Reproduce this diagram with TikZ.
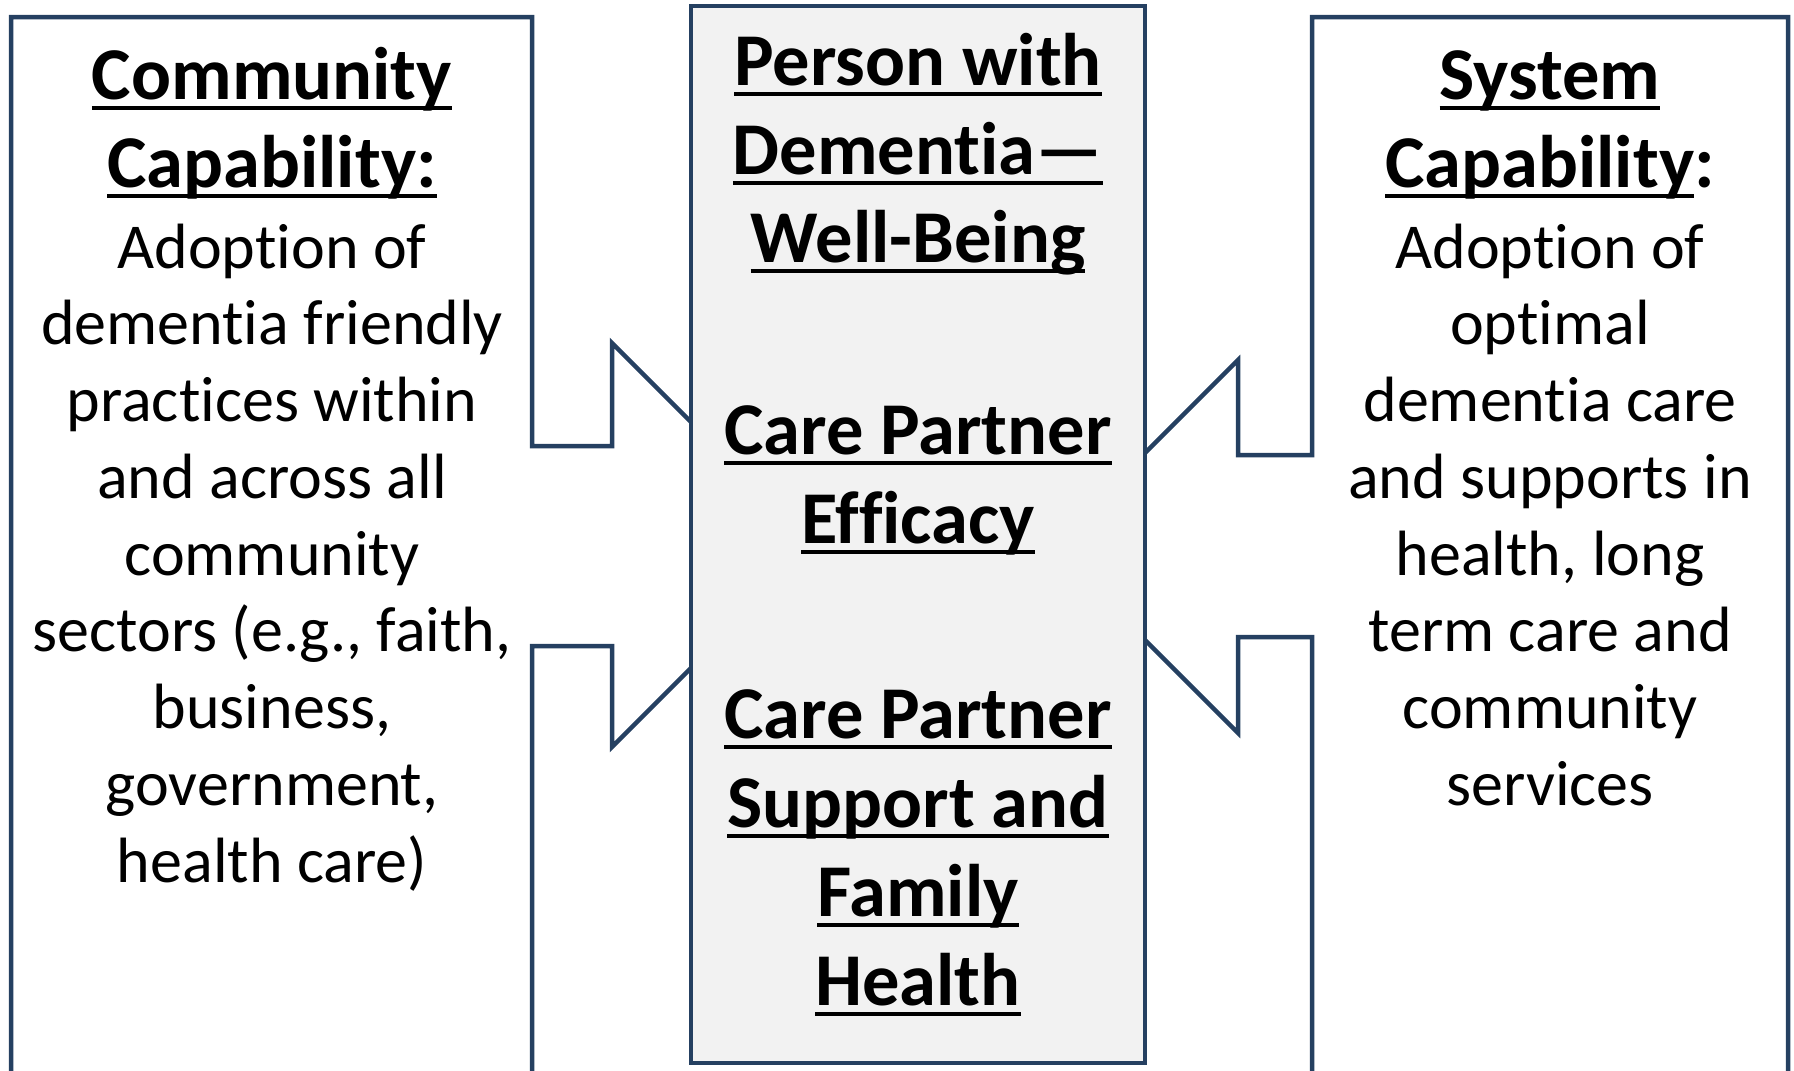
\documentclass[tikz,border=0pt]{standalone}
\usepackage{fontspec}
\setmainfont[Ligatures=NoCommon]{Carlito}
\definecolor{navy}{RGB}{37,64,97}
\definecolor{panel}{RGB}{242,242,242}
% underline drawn as a rule under the word, Word-style
\newsavebox\ulinebox
\newcommand\ulword[1]{\sbox\ulinebox{#1}\rlap{\rule[-0.15em]{\wd\ulinebox}{0.055em}}\usebox\ulinebox}
\tikzset{
  outline/.style={draw=navy, line width=4.5pt, line join=miter, fill=white},
  head/.style={font=\fontsize{74.5}{89}\selectfont\bfseries, anchor=base, inner sep=0pt},
  body/.style={font=\fontsize{64}{77}\selectfont, anchor=base, inner sep=0pt},
}
\begin{document}
\begin{tikzpicture}[x=1pt,y=-1pt]
\useasboundingbox (0,0) rectangle (1794,1071);
\clip (0,0) rectangle (1794,1071);

% left callout, arrow pointing right into the centre panel
\draw[outline] (11,17) -- (532,17) -- (532,446) -- (612,446) -- (612,343)
  -- (814,545) -- (612,747) -- (612,646) -- (532,646) -- (532,1090)
  -- (11,1090) -- cycle;

% right callout, arrow pointing left into the centre panel
\draw[outline] (1312,17) -- (1788,17) -- (1788,1090) -- (1312,1090)
  -- (1312,637) -- (1238,637) -- (1238,733) -- (1051.5,546.5)
  -- (1238,360) -- (1238,455) -- (1312,455) -- cycle;

% centre panel
\draw[draw=navy, line width=4.5pt, fill=panel] (691,6) rectangle (1145,1063);

% left column text
\node[head] (lh1) at (272,99) {\ulword{Community}};
\node[head] (lh2) at (272,187) {\ulword{Capability:}};
\node[body] (lb1) at (272,268) {Adoption of};
\node[body] (lb2) at (272,344.75) {dementia friendly};
\node[body] (lb3) at (272,421.5) {practices within};
\node[body] (lb4) at (272,498.25) {and across all};
\node[body] (lb5) at (272,575) {community};
\node[body] (lb6) at (272,651.75) {sectors (e.g., faith,};
\node[body] (lb7) at (272,728.5) {business,};
\node[body] (lb8) at (272,805.25) {government,};
\node[body] (lb9) at (272,882) {health care)};

% right column text
\node[head] (rh1) at (1550,99) {\ulword{System}};
\node[head] (rh2) at (1550,187) {\ulword{Capability}:};
\node[body] (rb1) at (1550,268) {Adoption of};
\node[body] (rb2) at (1550,344.75) {optimal};
\node[body] (rb3) at (1550,421.5) {dementia care};
\node[body] (rb4) at (1550,498.25) {and supports in};
\node[body] (rb5) at (1550,575) {health, long};
\node[body] (rb6) at (1550,651.75) {term care and};
\node[body] (rb7) at (1550,728.5) {community};
\node[body] (rb8) at (1550,805.25) {services};

% centre panel text
\node[head] (c1) at (918,85) {\ulword{Person with}};
\node[head] (c2) at (918,174) {\ulword{Dementia—}};
\node[head] (c3) at (918,262) {\ulword{Well-Being}};
\node[head] (c4) at (918,454) {\ulword{Care Partner}};
\node[head] (c5) at (918,543) {\ulword{Efficacy}};
\node[head] (c6) at (918,738) {\ulword{Care Partner}};
\node[head] (c7) at (918,827) {\ulword{Support and}};
\node[head] (c8) at (918,916) {\ulword{Family}};
\node[head] (c9) at (918,1005) {\ulword{Health}};
\end{tikzpicture}
\end{document}
